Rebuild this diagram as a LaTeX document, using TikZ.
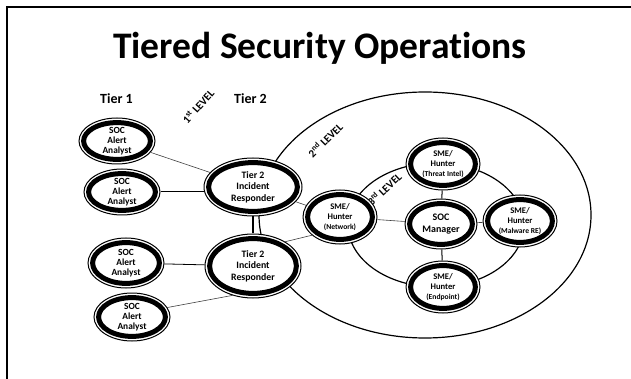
\documentclass[tikz,border=0pt]{standalone}
\usepackage{fontspec}
\setmainfont{Carlito}[Ligatures=CommonOff]
\usetikzlibrary{shapes.geometric,calc,backgrounds}
\newcommand\smtagfont{\fontsize{7.6}{8}\selectfont}
\tikzset{
  frame/.style={line width=2pt},
  ring/.style={line width=1.2pt},
  person/.style={ellipse, inner sep=0pt, fill=white, draw, line width=1pt, align=center,
    path picture={\draw[line width=5pt] let \p1=($(path picture bounding box.north east)-(path picture bounding box.center)$) in (path picture bounding box.center) ellipse ({\x1-4.6pt} and {\y1-4.6pt});}},
  analyst/.style={person, minimum width=76pt, minimum height=46pt, font=\bfseries\fontsize{9.4}{10}\selectfont},
  responder/.style={person, minimum width=98pt, minimum height=60pt, font=\bfseries\fontsize{9.8}{11.5}\selectfont},
  sme/.style={person, minimum width=74pt, minimum height=52pt, font=\bfseries\fontsize{8.6}{10}\selectfont},
  link/.style={line width=0.6pt, black!75},
  linkb/.style={line width=1pt},
  tierlabel/.style={font=\bfseries\fontsize{14}{16}\selectfont, anchor=base},
  level/.style={font=\bfseries\fontsize{11}{12}\selectfont, inner sep=0pt},
}
\begin{document}
\begin{tikzpicture}[x=1pt,y=-1pt]
\useasboundingbox (0,0) rectangle (631,379);
\draw[frame] (7,379) -- (7,7) -- (631,7);
\node[font=\bfseries\fontsize{37.5}{40}\selectfont, anchor=base] (title) at (320,59) {Tiered Security Operations};
\node[tierlabel] (t1) at (116.5,104) {Tier 1};
\node[tierlabel] (t2) at (250.5,104) {Tier 2};
% levels
\draw[ring] (425,215) ellipse (166 and 123);
\draw[ring] (436,225) ellipse (88 and 62);
\node[level, rotate=48] (l1) at (198,106) {1\textsuperscript{st} LEVEL};
\node[level, rotate=45] (l2) at (325,140) {2\textsuperscript{nd} LEVEL};
\node[level, rotate=43] (l3) at (384,189) {3\textsuperscript{rd} LEVEL};
% nodes
\node[analyst] (a1) at (117,141) {SOC\\Alert\\Analyst};
\node[analyst] (a2) at (122,192) {SOC\\Alert\\Analyst};
\node[analyst, minimum height=50pt] (a3) at (126,263) {SOC\\Alert\\Analyst};
\node[analyst, minimum height=48pt] (a4) at (132,317) {SOC\\Alert\\Analyst};
\node[responder, minimum height=58pt] (r1) at (253,187) {Tier 2\\Incident\\Responder};
\node[responder, minimum height=64pt, minimum width=96pt] (r2) at (253,266) {Tier 2\\Incident\\Responder};
\node[sme, minimum height=54pt] (net) at (340,217) {SME/\\Hunter\\{\smtagfont(Network)}};
\node[sme] (ti) at (443,164) {SME/\\Hunter\\{\smtagfont(Threat Intel)}};
\node[sme, minimum width=72pt, minimum height=50pt, font=\bfseries\fontsize{10}{12}\selectfont] (mgr) at (441,224) {SOC\\Manager};
\node[sme] (mal) at (520,221) {SME/\\Hunter\\{\smtagfont(Malware RE)}};
\node[sme] (end) at (443,287) {SME/\\Hunter\\{\smtagfont(Endpoint)}};
% connectors
\begin{scope}[on background layer]
\draw[link] (a1) -- (r1);
\draw[linkb] (a2.east) -- (r1.west |- a2.east);
\draw[linkb, line width=1.2pt] (r1) -- (r2);
\draw[linkb, line width=0.8pt] (a3) -- (r2);
\draw[link] (a4.15) -- (r2.235);
\draw[link] (r1) -- (net);
\draw[link] (r2.37) -- (net.213);
\draw[link] (net) -- (mgr);
\draw[linkb] (mgr) -- (ti);
\draw[linkb] (mgr) -- (end);
\draw[link] (mgr) -- (mal);
\end{scope}
\end{tikzpicture}
\end{document}
